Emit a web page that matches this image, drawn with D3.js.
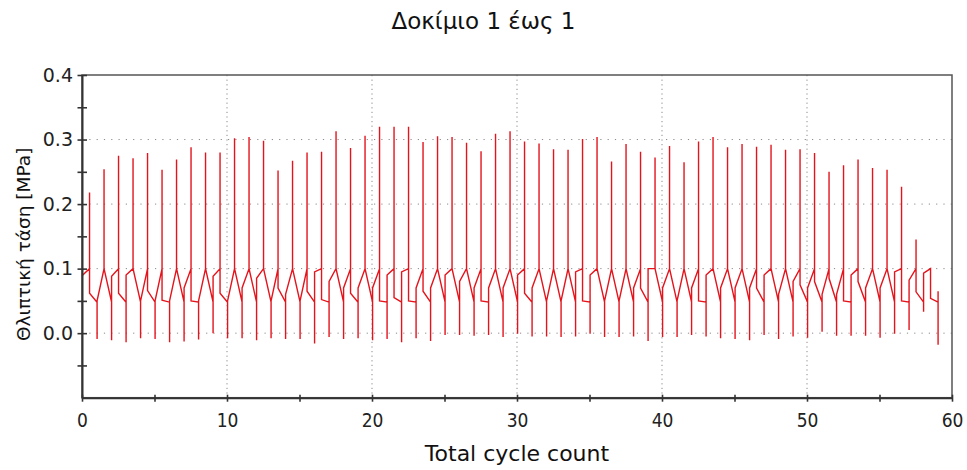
<!DOCTYPE html>
<html>
<head>
<meta charset="utf-8">
<script src="https://cdn.jsdelivr.net/npm/d3@7"></script>
<style>
  html, body { margin: 0; padding: 0; background: #fff; }
  #chart { width: 967px; height: 470px; }
  .tick-y text { font-family: "DejaVu Sans", sans-serif; font-size: 19px; fill: #222; }
  .tick-x text { font-family: "DejaVu Sans Condensed", "DejaVu Sans", sans-serif; font-size: 19px; fill: #222; }
</style>
</head>
<body>
<div id="chart"></div>
<script>
// values, one entry per cycle (0..58)
const peaks = [
  0.218, 0.254, 0.275, 0.271, 0.279, 0.253, 0.269, 0.288, 0.280, 0.280,
  0.302, 0.304, 0.298, 0.252, 0.267, 0.280, 0.281, 0.313, 0.287, 0.306,
  0.320, 0.320, 0.320, 0.296, 0.305, 0.304, 0.295, 0.282, 0.309, 0.313,
  0.297, 0.294, 0.285, 0.284, 0.301, 0.304, 0.266, 0.293, 0.281, 0.272,
  0.290, 0.265, 0.297, 0.304, 0.288, 0.293, 0.289, 0.292, 0.284, 0.285,
  0.279, 0.250, 0.260, 0.269, 0.256, 0.253, 0.227, 0.145, 0.099
];
const troughs = [
  -0.009, -0.011, -0.014, -0.008, -0.009, -0.014, -0.013, -0.010, 0.000, -0.008,
  -0.008, -0.011, -0.008, -0.009, -0.009, -0.016, -0.006, -0.009, -0.008, -0.011,
  -0.009, -0.014, -0.008, -0.012, -0.003, -0.003, -0.004, -0.003, -0.006, -0.001,
  -0.005, -0.005, -0.006, -0.005, -0.001, -0.006, -0.006, -0.005, -0.012, -0.006,
  -0.006, -0.003, -0.005, -0.008, -0.009, -0.011, -0.003, -0.009, -0.005, -0.007,
  0.002, -0.004, -0.004, -0.004, -0.007, -0.001, 0.005, 0.033, -0.018
];
// level the line drops to right after each peak
const postPeak = [
  0.062, 0.100, 0.062, 0.100, 0.066, 0.051, 0.100, 0.050, 0.100, 0.062,
  0.100, 0.100, 0.100, 0.070, 0.100, 0.065, 0.052, 0.100, 0.062, 0.100,
  0.050, 0.055, 0.050, 0.065, 0.100, 0.100, 0.100, 0.050, 0.100, 0.100,
  0.062, 0.100, 0.100, 0.100, 0.050, 0.100, 0.100, 0.100, 0.070, 0.100,
  0.100, 0.100, 0.050, 0.100, 0.100, 0.100, 0.070, 0.100, 0.100, 0.075,
  0.080, 0.085, 0.050, 0.080, 0.100, 0.100, 0.050, 0.064, 0.054
];
// level the line climbs back to right after each trough
const returnLevel = [
  0.050, 0.088, 0.090, 0.050, 0.050, 0.050, 0.070, 0.050, 0.088, 0.050,
  0.070, 0.085, 0.050, 0.060, 0.050, 0.095, 0.080, 0.070, 0.070, 0.070,
  0.090, 0.095, 0.070, 0.070, 0.090, 0.080, 0.070, 0.070, 0.070, 0.090,
  0.070, 0.050, 0.050, 0.095, 0.090, 0.050, 0.050, 0.070, 0.100, 0.070,
  0.050, 0.070, 0.090, 0.070, 0.070, 0.070, 0.090, 0.060, 0.080, 0.070,
  0.060, 0.060, 0.090, 0.070, 0.070, 0.095, 0.082, 0.093, 0.065
];
const startLevel = 0.089;
const upperLevel = 0.1;
const lowerLevel = 0.048;
const peakOffset = 0.52;
const troughOffset = 1.04;

const xTicks = [0, 5, 10, 15, 20, 25, 30, 35, 40, 45, 50, 55, 60];
const xLabels = [0, 10, 20, 30, 40, 50, 60];
const yTicks = [-0.05, 0, 0.05, 0.1, 0.15, 0.2, 0.25, 0.3, 0.35, 0.4];
const yLabels = [0, 0.1, 0.2, 0.3, 0.4];
const xGrid = [10, 20, 30, 40, 50];
const yGrid = [0, 0.1, 0.2, 0.3];

const title = "Δοκίμιο 1 έως 1";
const xTitle = "Total cycle count";
const yTitle = "Θλιπτική τάση [MPa]";

const width = 967;
const height = 470;
const margin = { top: 75, right: 15, bottom: 72.3, left: 82 };

const x = d3.scaleLinear().domain([0, 60]).range([margin.left, width - margin.right]);
const y = d3.scaleLinear().domain([-0.1, 0.4]).range([height - margin.bottom, margin.top]);

const svg = d3.select("#chart").append("svg")
  .attr("width", width)
  .attr("height", height);

// grid
svg.append("g")
  .selectAll("line")
  .data(yGrid)
  .join("line")
  .attr("x1", x(0)).attr("x2", x(60))
  .attr("y1", (d) => y(d)).attr("y2", (d) => y(d))
  .attr("stroke", "#8a8a8a")
  .attr("stroke-width", 1)
  .attr("stroke-dasharray", "1.2,6.1");

svg.append("g")
  .selectAll("line")
  .data(xGrid)
  .join("line")
  .attr("x1", (d) => x(d)).attr("x2", (d) => x(d))
  .attr("y1", y(0.4)).attr("y2", y(-0.1))
  .attr("stroke", "#8a8a8a")
  .attr("stroke-width", 1)
  .attr("stroke-dasharray", "1.2,3.4");

// build the trace point by point
const points = [[0, startLevel]];
peaks.forEach((p, i) => {
  const px = i + peakOffset;
  const tx = i + troughOffset;
  points.push([px, upperLevel], [px, p], [px, postPeak[i]]);
  points.push([tx, lowerLevel], [tx, troughs[i]], [tx, returnLevel[i]]);
});

const line = d3.line()
  .x((d) => x(d[0]))
  .y((d) => y(d[1]));

svg.append("path")
  .datum(points)
  .attr("d", line)
  .attr("fill", "none")
  .attr("stroke", "#e3141c")
  .attr("stroke-width", 1.4)
  .attr("stroke-linejoin", "miter");

// frame
svg.append("rect")
  .attr("x", x(0)).attr("y", y(0.4))
  .attr("width", x(60) - x(0))
  .attr("height", y(-0.1) - y(0.4))
  .attr("fill", "none")
  .attr("stroke", "#555")
  .attr("stroke-width", 1.5);

// axes
const fmt = d3.format(".1f");
const yAxis = svg.append("g")
  .attr("class", "tick-y")
  .attr("transform", `translate(${x(0)},0)`)
  .call(d3.axisLeft(y)
    .tickValues(yTicks)
    .tickSizeInner(5)
    .tickSizeOuter(0)
    .tickPadding(4)
    .tickFormat((d) => (yLabels.includes(d) ? fmt(d) : "")));
yAxis.select(".domain").attr("stroke", "#333").attr("stroke-width", 2);
yAxis.selectAll(".tick line").attr("x1", 5).attr("x2", -4.5).attr("stroke", "#333").attr("stroke-width", 1.6);

const xAxis = svg.append("g")
  .attr("class", "tick-x")
  .attr("transform", `translate(0,${y(-0.1)})`)
  .call(d3.axisBottom(x)
    .tickValues(xTicks)
    .tickSizeInner(4)
    .tickSizeOuter(0)
    .tickPadding(12)
    .tickFormat((d) => (xLabels.includes(d) ? d : "")));
xAxis.select(".domain").attr("stroke", "#333").attr("stroke-width", 2);
xAxis.selectAll(".tick line").attr("y1", -3).attr("y2", 4).attr("stroke", "#333").attr("stroke-width", 1.6);

// titles
svg.append("text")
  .attr("x", width / 2)
  .attr("y", 29)
  .attr("text-anchor", "middle")
  .style("font-family", "'DejaVu Sans', sans-serif")
  .style("font-size", "23px")
  .attr("fill", "#111")
  .text(title);

svg.append("text")
  .attr("x", (x(0) + x(60)) / 2)
  .attr("y", 461)
  .attr("text-anchor", "middle")
  .style("font-family", "'DejaVu Sans', sans-serif")
  .style("font-size", "22px")
  .attr("fill", "#111")
  .text(xTitle);

svg.append("text")
  .attr("transform", `translate(30,${(y(0.4) + y(-0.1)) / 2 + 8}) rotate(-90)`)
  .attr("text-anchor", "middle")
  .style("font-family", "'DejaVu Sans', sans-serif")
  .style("font-size", "18.5px")
  .attr("fill", "#111")
  .text(yTitle);
</script>
</body>
</html>
